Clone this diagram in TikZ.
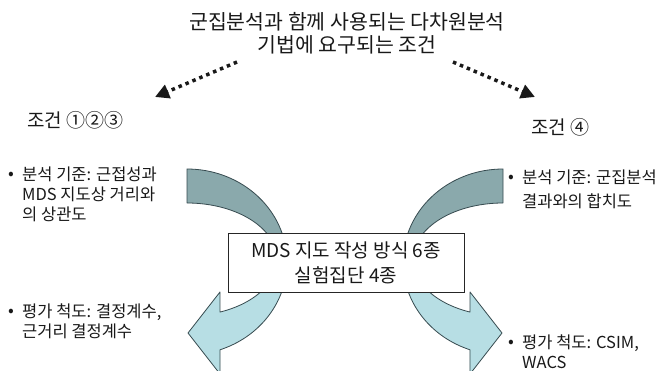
\documentclass[tikz,border=0pt]{standalone}
\usepackage{fontspec}
\setmainfont{Noto Sans CJK KR}
\usetikzlibrary{arrows.meta}
\definecolor{darkband}{RGB}{138,169,172}
\definecolor{lightband}{RGB}{183,222,228}
\definecolor{bandline}{RGB}{55,75,80}
\definecolor{inkc}{RGB}{25,25,25}
\tikzset{
  band/.style={draw=bandline, line width=0.8pt, line join=round},
  darkpart/.style={band, fill=darkband},
  lightpart/.style={band, fill=lightband},
  dotarrow/.style={draw=inkc, line width=3.5pt, dash pattern=on 3.5pt off 4pt,
    -{Triangle[length=14pt,width=14pt]}},
  titlest/.style={inner sep=0pt, anchor=north, align=center, text=inkc,
    font=\fontsize{20.5}{23.5}\selectfont},
  lbl/.style={inner sep=0pt, anchor=west, text=inkc, font=\fontsize{19}{23}\selectfont},
  txt/.style={inner sep=0pt, anchor=north west, align=left, text=inkc,
    font=\fontsize{16.5}{20}\selectfont},
  bul/.style={inner sep=0pt, text=inkc, font=\fontsize{17}{18}\selectfont},
  boxst/.style={draw=black!85, fill=white, line width=0.8pt, minimum width=236pt,
    minimum height=59pt, inner sep=0pt, align=center, text=inkc,
    font=\fontsize{19}{25}\selectfont},
  curvearrow/.pic={
    \path[darkpart] plot[domain=90:0, samples=50] ({187+100*cos(\x)},{262-93*sin(\x)})
      -- plot[domain=0:90, samples=50] ({187+90*cos(\x)},{259.5-56.5*sin(\x)}) -- cycle;
    \path[lightpart] plot[domain=0:-70.7, samples=50] ({187+100*cos(\x)},{262-93*sin(\x)})
      -- (220,374) -- (188,333) -- (220,292)
      -- plot[domain=-68.5:0, samples=50] ({187+90*cos(\x)},{259.5-56.5*sin(\x)}) -- cycle;
  }
}
\begin{document}
\begin{tikzpicture}[x=1pt, y=-1pt]
\useasboundingbox (0,0) rectangle (662,371);
\clip (0,0) rectangle (662,371);
\fill[white] (0,0) rectangle (662,371);

% curved arrows
\pic at (0,0) {curvearrow};
\pic[xscale=-1] at (690,0) {curvearrow};

% central box
\node[boxst] (box) at (346,262.5) {MDS 지도 작성 방식 6종\\실험집단 4종};

% title
\node[titlest] (title) at (347,12) {군집분석과 함께 사용되는 다차원분석\\기법에 요구되는 조건};

% dotted arrows
\coordinate (lA) at (237,62);
\coordinate (lB) at (155,97);
\coordinate (rA) at (453,62);
\coordinate (rB) at (535,97);
\draw[dotarrow] (lA) -- (lB);
\draw[dotarrow] (rA) -- (rB);

% condition labels
\node[lbl] (c123) at (27,120) {조건 ①②③};
\node[lbl] (c4) at (531,127) {조건 ④};

% bullets and texts
\node[bul] (b1) at (11,176) {•};
\node[txt] (t1) at (22,167) {분석 기준: 근접성과\\MDS 지도상 거리와\\의 상관도};
\node[bul] (b2) at (11,313) {•};
\node[txt] (t2) at (22,304) {평가 척도: 결정계수,\\근거리 결정계수};
\node[bul] (b3) at (511,179) {•};
\node[txt, font=\fontsize{16.5}{24}\selectfont] (t3) at (522,170) {분석 기준: 군집분석\\결과와의 합치도};
\node[bul] (b4) at (511,344) {•};
\node[txt, font=\fontsize{16.5}{19.5}\selectfont] (t4) at (522,335) {평가 척도: CSIM,\\WACS};
\end{tikzpicture}
\end{document}
